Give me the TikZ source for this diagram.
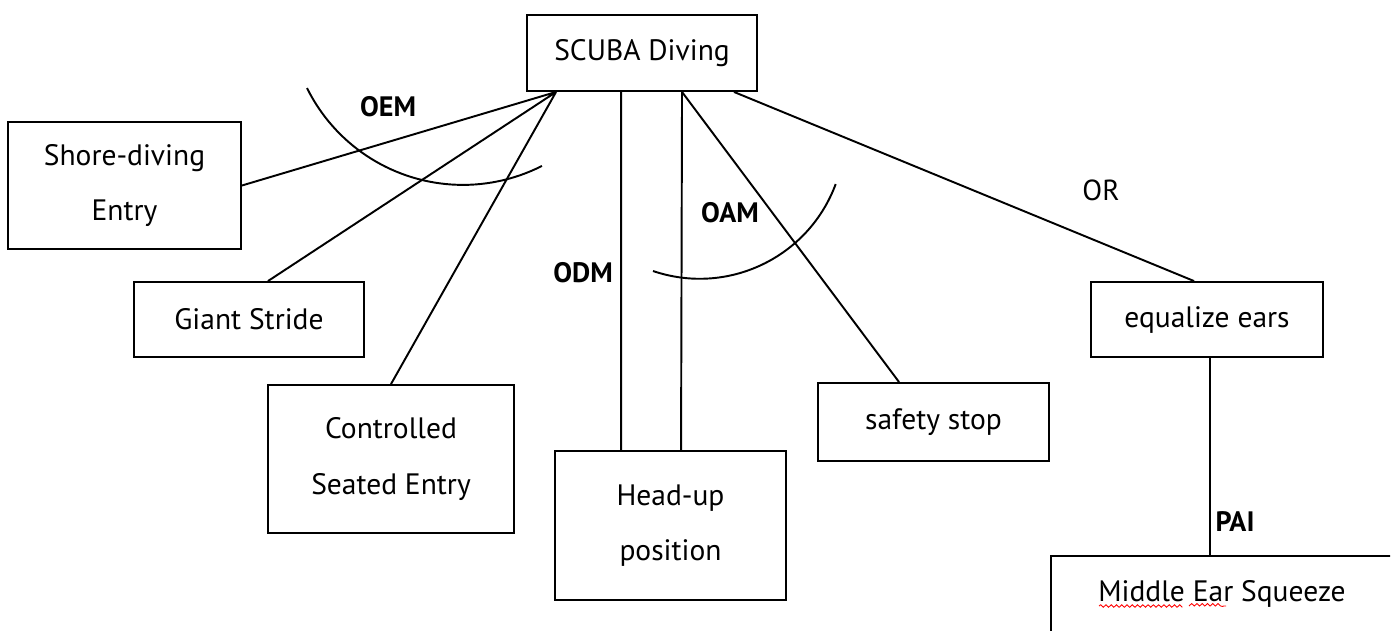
\documentclass[tikz,border=0pt]{standalone}
\usepackage{fontspec}
\setmainfont{PT Sans}
\usetikzlibrary{positioning, decorations.pathmorphing}

\tikzset{
  box/.style={draw, line width=1.1pt, align=center, inner sep=0pt, font=\fontsize{16.8}{31.5}\selectfont},
  lbl/.style={font=\fontsize{16}{18}\selectfont\bfseries},
}

\begin{document}
\begin{tikzpicture}[x=0.02cm, y=-0.02cm, line width=1.1pt]  % pixel-like units, y going down
    \useasboundingbox (0,0) rectangle (1392,630);  % keeps the page size
    \clip (0,0) rectangle (1390,630);  % box at the right runs off the page
    \node[box, minimum width=4.6cm, minimum height=1.52cm] (scuba) at (642,53) {SCUBA Diving};  % top box
    \node[box, minimum width=4.66cm, minimum height=2.54cm] (shore) at (124.5,185.5) {Shore-diving\\Entry};  % entry boxes
    \node[box, minimum width=4.6cm, minimum height=1.5cm] (giant) at (249,319.5) {Giant Stride};
    \node[box, minimum width=4.92cm, minimum height=2.96cm] (seated) at (391,459) {Controlled\\Seated Entry};
    \node[box, minimum width=4.62cm, minimum height=2.98cm] (headup) at (670.5,525.5) {Head-up\\position};  % lower boxes
    \node[box, minimum width=4.62cm, minimum height=1.56cm] (safety) at (933.5,422) {safety stop};
    \node[box, minimum width=4.64cm, minimum height=1.5cm] (ears) at (1207,319.5) {equalize ears};
    \node[box, minimum width=6.84cm, minimum height=1.52cm] (squeeze) at (1222,594) {Middle Ear Squeeze};

    \draw ([xshift=0.6cm]scuba.south west) -- (shore.east)  % lines to the entry boxes
          ([xshift=0.6cm]scuba.south west) -- ([xshift=0.38cm]giant.north)
          ([xshift=0.6cm]scuba.south west) -- (seated.north);
    \draw ([xshift=1.9cm]scuba.south west) -- ([xshift=1.34cm]headup.north west)  % two lines to head-up
          ([xshift=3.12cm]scuba.south west) -- ([xshift=2.54cm]headup.north west);
    \draw ([xshift=3.12cm]scuba.south west) -- ([xshift=1.64cm]safety.north west);
    \draw ([xshift=4.16cm]scuba.south west) -- ([xshift=2.08cm]ears.north west);
    \draw ([xshift=0.06cm]ears.south) -- ([xshift=0.06cm]ears.south |- squeeze.north);

    \draw (307,88) arc[start angle=206.3, end angle=297, radius=3.48cm];  % arcs over the lines
    \draw (653,271) arc[start angle=251.2, end angle=339.7, radius=2.9cm];

    \node[lbl] (oem) at (388,107) {OEM};  % relation labels
    \node[lbl] (odm) at (583,273) {ODM};
    \node[lbl] (oam) at (730,213) {OAM};
    \node[lbl, font=\fontsize{16.5}{18}\selectfont] (or) at (1101,190) {OR};
    \node[lbl] (pai) at (1235,522) {PAI};

    \draw[red, line width=0.5pt, decorate, decoration={snake, amplitude=0.7pt, segment length=3pt}]
          (1099,606) -- (1181,606) (1189,606) -- (1226,606);  % spell-check marks
\end{tikzpicture}
\end{document}
